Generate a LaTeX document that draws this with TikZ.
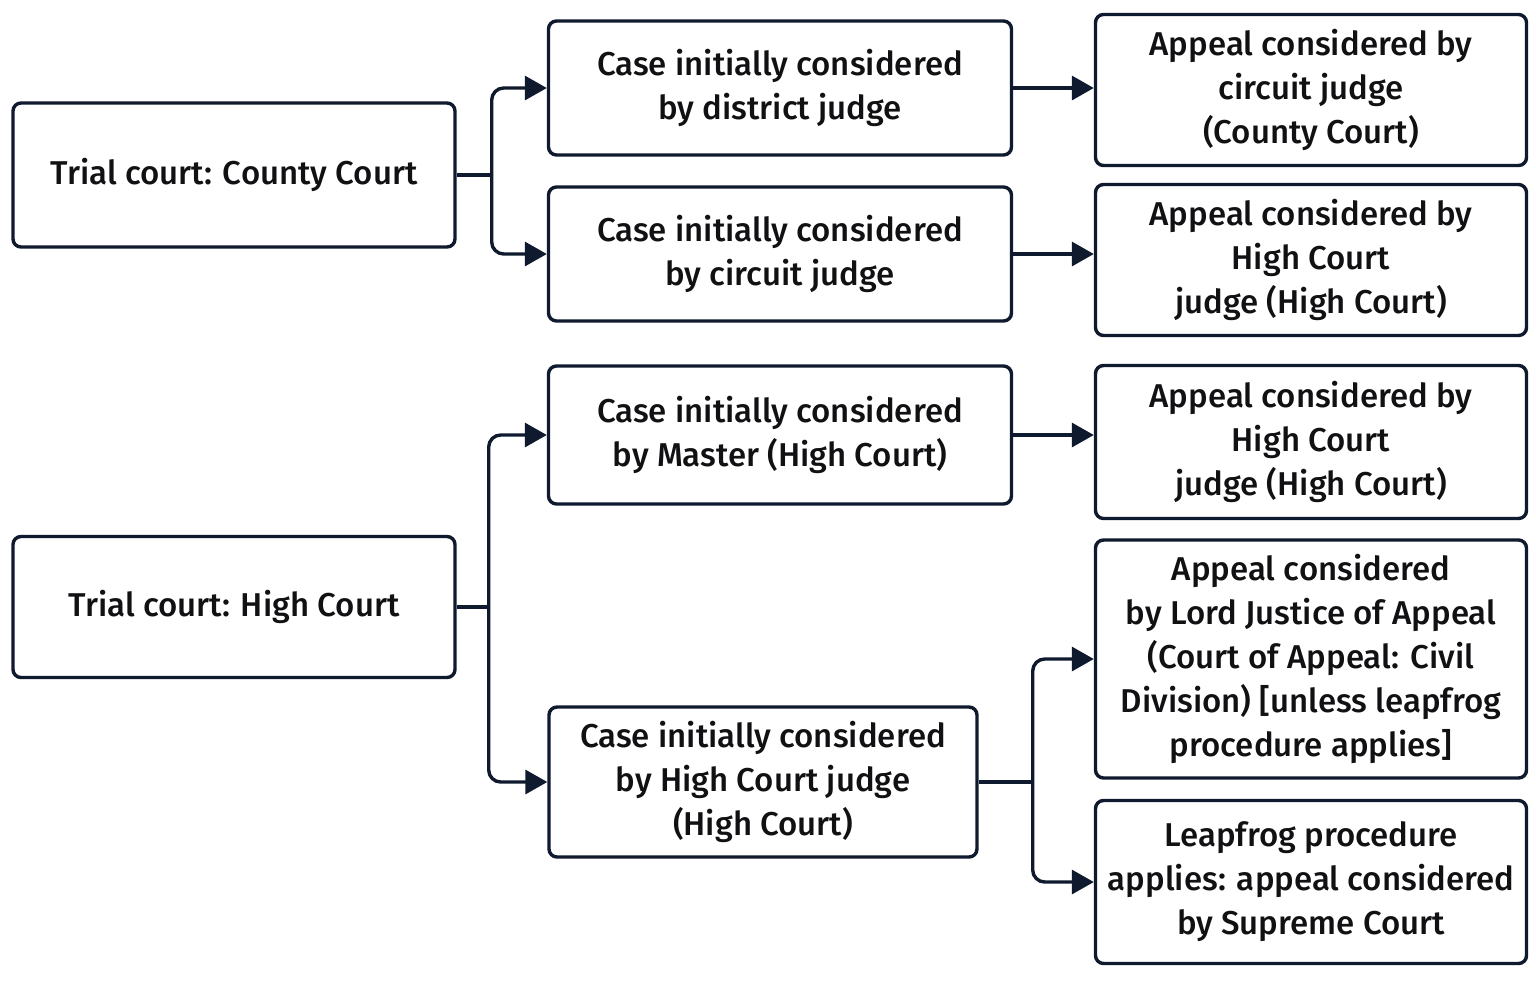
\documentclass[tikz,border=0pt]{standalone}
\usepackage{fontspec}
\setmainfont{Fira Sans}[UprightFont=* Medium]
\usepackage{xcolor}
\usepackage{tikz}
\usetikzlibrary{arrows.meta,positioning}
\definecolor{linecolor}{RGB}{15,26,46}
\definecolor{textcolor}{RGB}{17,17,20}

\begin{document}
\begin{tikzpicture}[
    x=0.5pt, y=-0.5pt,
    box/.style={rectangle, draw=linecolor, line width=1.7pt, rounded corners=4pt, inner sep=0pt, align=center, text=textcolor, font=\fontsize{16.5}{22}\selectfont},
    trialbox/.style={box, minimum width=221pt, minimum height=72pt},
    casebox/.style={box, minimum width=231.5pt, minimum height=67pt},
    appealbox/.style={box, minimum width=215.5pt, minimum height=75.5pt},
    arrow/.style={-{Triangle[length=11pt, width=12pt]}, draw=linecolor, line width=1.7pt, rounded corners=6pt},
    line/.style={draw=linecolor, line width=1.7pt}
]
\useasboundingbox (0,0) rectangle (1536,982);

% County Court branch
\node[trialbox] (county) at (234, 175) {Trial court: County Court};
\node[casebox] (district) at (780, 88) {Case initially considered\\by district judge};
\node[casebox] (circuit) at (780, 254) {Case initially considered\\by circuit judge};
\node[appealbox] (appcircuit) at (1311, 90) {Appeal considered by\\circuit judge\\(County Court)};
\node[appealbox] (appcounty) at (1311, 260) {Appeal considered by\\High Court\\judge (High Court)};

% High Court branch
\node[trialbox, minimum height=70.5pt] (highcourt) at (234, 607) {Trial court: High Court};
\node[casebox, minimum height=69pt] (master) at (780, 435) {Case initially considered\\by Master (High Court)};
\node[box, minimum width=214pt, minimum height=75pt] (hcjudge) at (763, 782) {Case initially considered\\by High Court judge\\(High Court)};
\node[appealbox, minimum height=76.5pt] (appmaster) at (1311, 442) {Appeal considered by\\High Court\\judge (High Court)};
\node[appealbox, minimum height=119pt] (lordjustice) at (1311, 659) {Appeal considered\\by Lord Justice of Appeal\\(Court of Appeal: Civil\\Division) [unless leapfrog\\procedure applies]};
\node[appealbox, minimum height=81.5pt] (leapfrog) at (1311, 882) {Leapfrog procedure\\applies: appeal considered\\by Supreme Court};

% Forks
\path (county.east) ++(35,0) coordinate (forkA);
\path (highcourt.east) ++(32,0) coordinate (forkB);
\path (hcjudge.east) ++(54,0) coordinate (forkC);

% Arrows - County Court
\draw[line] (county.east) -- (forkA);
\draw[arrow] (forkA) |- (district.west);
\draw[arrow] (forkA) |- (circuit.west);
\draw[arrow] (district) -- (appcircuit.west |- district);
\draw[arrow] (circuit) -- (appcounty.west |- circuit);

% Arrows - High Court
\draw[line] (highcourt.east) -- (forkB);
\draw[arrow] (forkB) |- (master.west);
\draw[arrow] (forkB) |- (hcjudge.west);
\draw[arrow] (master) -- (appmaster.west |- master);
\draw[line] (hcjudge.east) -- (forkC);
\draw[arrow] (forkC) |- (lordjustice.west);
\draw[arrow] (forkC) |- (leapfrog.west);

\end{tikzpicture}
\end{document}
